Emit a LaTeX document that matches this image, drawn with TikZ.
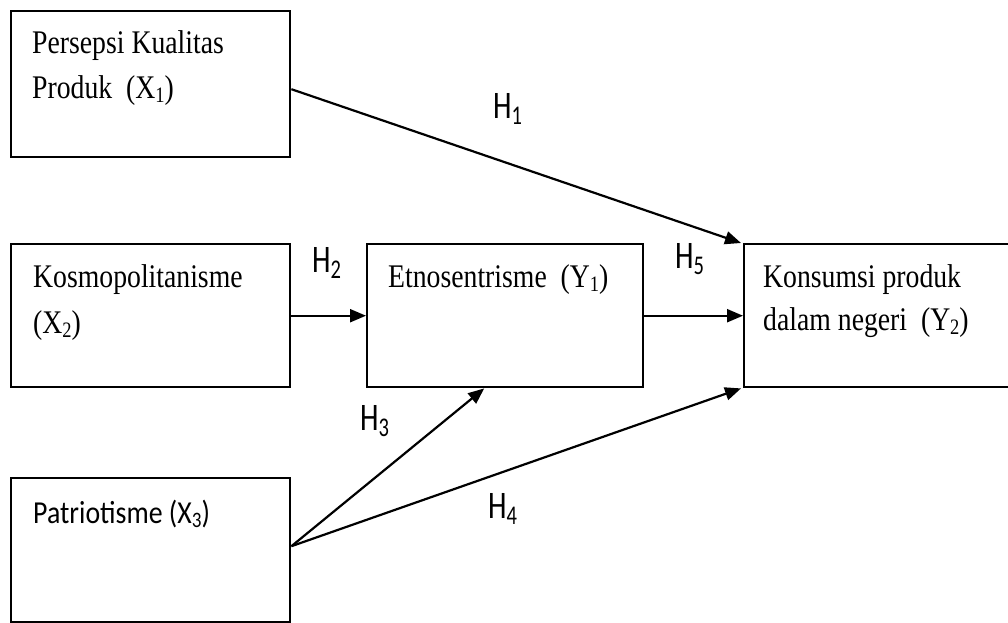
\documentclass[tikz,border=0pt]{standalone}
\usepackage{fontspec}
\usetikzlibrary{arrows.meta}
\newfontfamily\boxserif[FakeStretch=0.84]{Liberation Serif}
\newfontfamily\boxsans[FakeStretch=0.87]{Carlito}
\newfontfamily\hypsans[FakeStretch=0.76]{Carlito}
% subscripts for variable names and hypothesis labels
\newcommand\vsub[1]{\raisebox{-0.14em}{\fontsize{22}{22}\selectfont #1}}
\newcommand\hsub[1]{\raisebox{-0.16em}{\fontsize{27}{27}\selectfont #1}}
\tikzset{
  varbox/.style={draw, line width=2.4pt, inner sep=0pt, anchor=north west},
  vartext/.style={anchor=base west, inner sep=0pt, font=\boxserif\fontsize{33}{33}\selectfont},
  varsans/.style={anchor=base west, inner sep=0pt, font=\boxsans\fontsize{32}{32}\selectfont},
  hyplabel/.style={anchor=base west, inner sep=0pt, font=\hypsans\fontsize{39}{39}\selectfont},
  path/.style={line width=2.2pt, -{Triangle[length=16pt,width=13pt]}}
}
\begin{document}
\begin{tikzpicture}[x=1pt, y=-1pt]
\clip (0,0) rectangle (1008,622);
\fill[white] (0,0) rectangle (1008,622);

% variable boxes
\node[varbox, minimum width=279pt, minimum height=146pt] (X1) at (10,10) {};
\node[varbox, minimum width=279pt, minimum height=143pt] (X2) at (10,243) {};
\node[varbox, minimum width=276pt, minimum height=143pt] (Y1) at (366,243) {};
\node[varbox, minimum width=300pt, minimum height=143pt] (Y2) at (743,243) {};
\node[varbox, minimum width=279pt, minimum height=144pt] (X3) at (10,477) {};

% box texts
\node[vartext] (tX1a) at (32,53) {Persepsi Kualitas};
\node[vartext] (tX1b) at (32,98) {Produk\ \ (X\vsub{1})};
\node[vartext] (tX2a) at (33,287) {Kosmopolitanisme};
\node[vartext] (tX2b) at (33,333) {(X\vsub{2})};
\node[vartext] (tY1) at (388,287) {Etnosentrisme\ \ (Y\vsub{1})};
\node[vartext] (tY2a) at (763,287) {Konsumsi produk};
\node[vartext] (tY2b) at (763,330) {dalam negeri\ \ (Y\vsub{2})};
\node[varsans] (tX3) at (33,523) {Patriotisme (X\vsub{3})};

% hypothesised paths
\draw[path] ([yshift=-5pt]X1.east) -- ([xshift=-2pt]Y2.north west);
\draw[path] (X2.east) -- (Y1.west);
\draw[path] (Y1.east) -- (Y2.west);
\draw[path] ([yshift=4pt]X3.east) -- ([xshift=-21pt]Y1.south);
\draw[path] ([yshift=4pt]X3.east) -- ([xshift=-2pt]Y2.south west);

% hypothesis labels
\node[hyplabel] (H1) at (493,118) {H\hsub{1}};
\node[hyplabel] (H2) at (312,272) {H\hsub{2}};
\node[hyplabel] (H3) at (360,430) {H\hsub{3}};
\node[hyplabel] (H4) at (488,518) {H\hsub{4}};
\node[hyplabel] (H5) at (675,268) {H\hsub{5}};
\end{tikzpicture}
\end{document}
